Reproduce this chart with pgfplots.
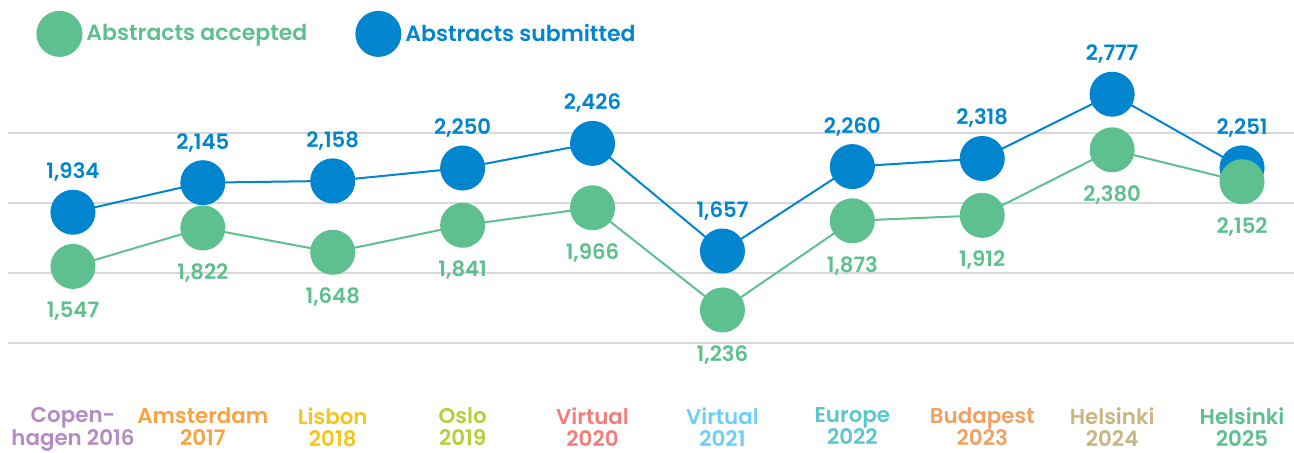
\documentclass[border=0pt]{standalone}
\usepackage{pgfplots}
\pgfplotsset{compat=1.18}
\usepackage{fontspec}
\setmainfont{Poppins}[BoldFont={Poppins SemiBold}]

\definecolor{accgreen}{RGB}{94,192,142}
\definecolor{subblue}{RGB}{0,133,206}
\definecolor{gridgray}{RGB}{217,217,217}
\definecolor{c0}{RGB}{180,139,198}
\definecolor{c1}{RGB}{249,162,63}
\definecolor{c2}{RGB}{246,197,27}
\definecolor{c3}{RGB}{180,207,58}
\definecolor{c4}{RGB}{242,126,123}
\definecolor{c5}{RGB}{109,207,246}
\definecolor{c6}{RGB}{91,199,203}
\definecolor{c7}{RGB}{242,160,95}
\definecolor{c8}{RGB}{200,182,128}
\definecolor{c9}{RGB}{94,192,142}

\newcommand{\twoline}[3]{\textcolor{#1}{#2}\\\textcolor{#1}{#3}}

\begin{document}
\begin{tikzpicture}
\begin{axis}[
    at={(4pt,54.5pt)}, anchor=south west,
    scale only axis,
    width=643pt, height=140pt,
    xmin=-0.5, xmax=9.40,
    ymin=1000, ymax=3000,
    clip=false,
    axis line style={draw=none},
    tick style={draw=none},
    ytick={1000,1500,2000,2500},
    yticklabels={},
    ymajorgrids=true,
    grid style={gridgray, line width=0.9pt},
    xtick={0,...,9},
    xticklabels={
      {\twoline{c0}{Copen-}{hagen 2016}},
      {\twoline{c1}{Amsterdam}{2017}},
      {\twoline{c2}{Lisbon}{2018}},
      {\twoline{c3}{Oslo}{2019}},
      {\twoline{c4}{Virtual}{2020}},
      {\twoline{c5}{Virtual}{2021}},
      {\twoline{c6}{Europe}{2022}},
      {\twoline{c7}{Budapest}{2023}},
      {\twoline{c8}{Helsinki}{2024}},
      {\twoline{c9}{Helsinki}{2025}}},
    xticklabel style={anchor=north, align=center, inner sep=0pt, yshift=-32pt,
      font=\bfseries\fontsize{10.7}{11.3}\selectfont},
    /pgf/number format/.cd, 1000 sep={,}, assume math mode=true,
    /pgfplots/.cd,
    nodes near coords,
    reverse legend,
    legend columns=2,
    legend style={draw=none, fill=none, inner sep=0pt,
      at={(0.0218,1.104)}, anchor=west,
      font=\bfseries\fontsize{11}{13}\selectfont,
      /tikz/every even column/.append style={column sep=22pt}},
    legend image code/.code={\fill[#1] (11pt,0pt) circle (11pt);},
]
\addplot[subblue, line width=1pt, mark=*, mark size=10.75pt,
    every node near coord/.append style={text=subblue, anchor=center, yshift=20pt,
      font=\bfseries\fontsize{10.6}{12}\selectfont}]
    coordinates {
    (0,1934)(1,2145)(2,2158)(3,2250)(4,2426)(5,1657)(6,2260)(7,2318)(8,2777)(9,2251)
    };
\addlegendentry{\textcolor{subblue}{Abstracts submitted}}
\addplot[accgreen, line width=1pt, mark=*, mark size=10.75pt,
    every node near coord/.append style={text=accgreen, anchor=center, yshift=-22.5pt,
      font=\bfseries\fontsize{10.6}{12}\selectfont}]
    coordinates {
    (0,1547)(1,1822)(2,1648)(3,1841)(4,1966)(5,1236)(6,1873)(7,1912)(8,2380)(9,2152)
    };
\addlegendentry{\textcolor{accgreen}{Abstracts accepted}}
\end{axis}
\pgfresetboundingbox
\path (0,0) rectangle (647pt,226pt);
\end{tikzpicture}
\end{document}
